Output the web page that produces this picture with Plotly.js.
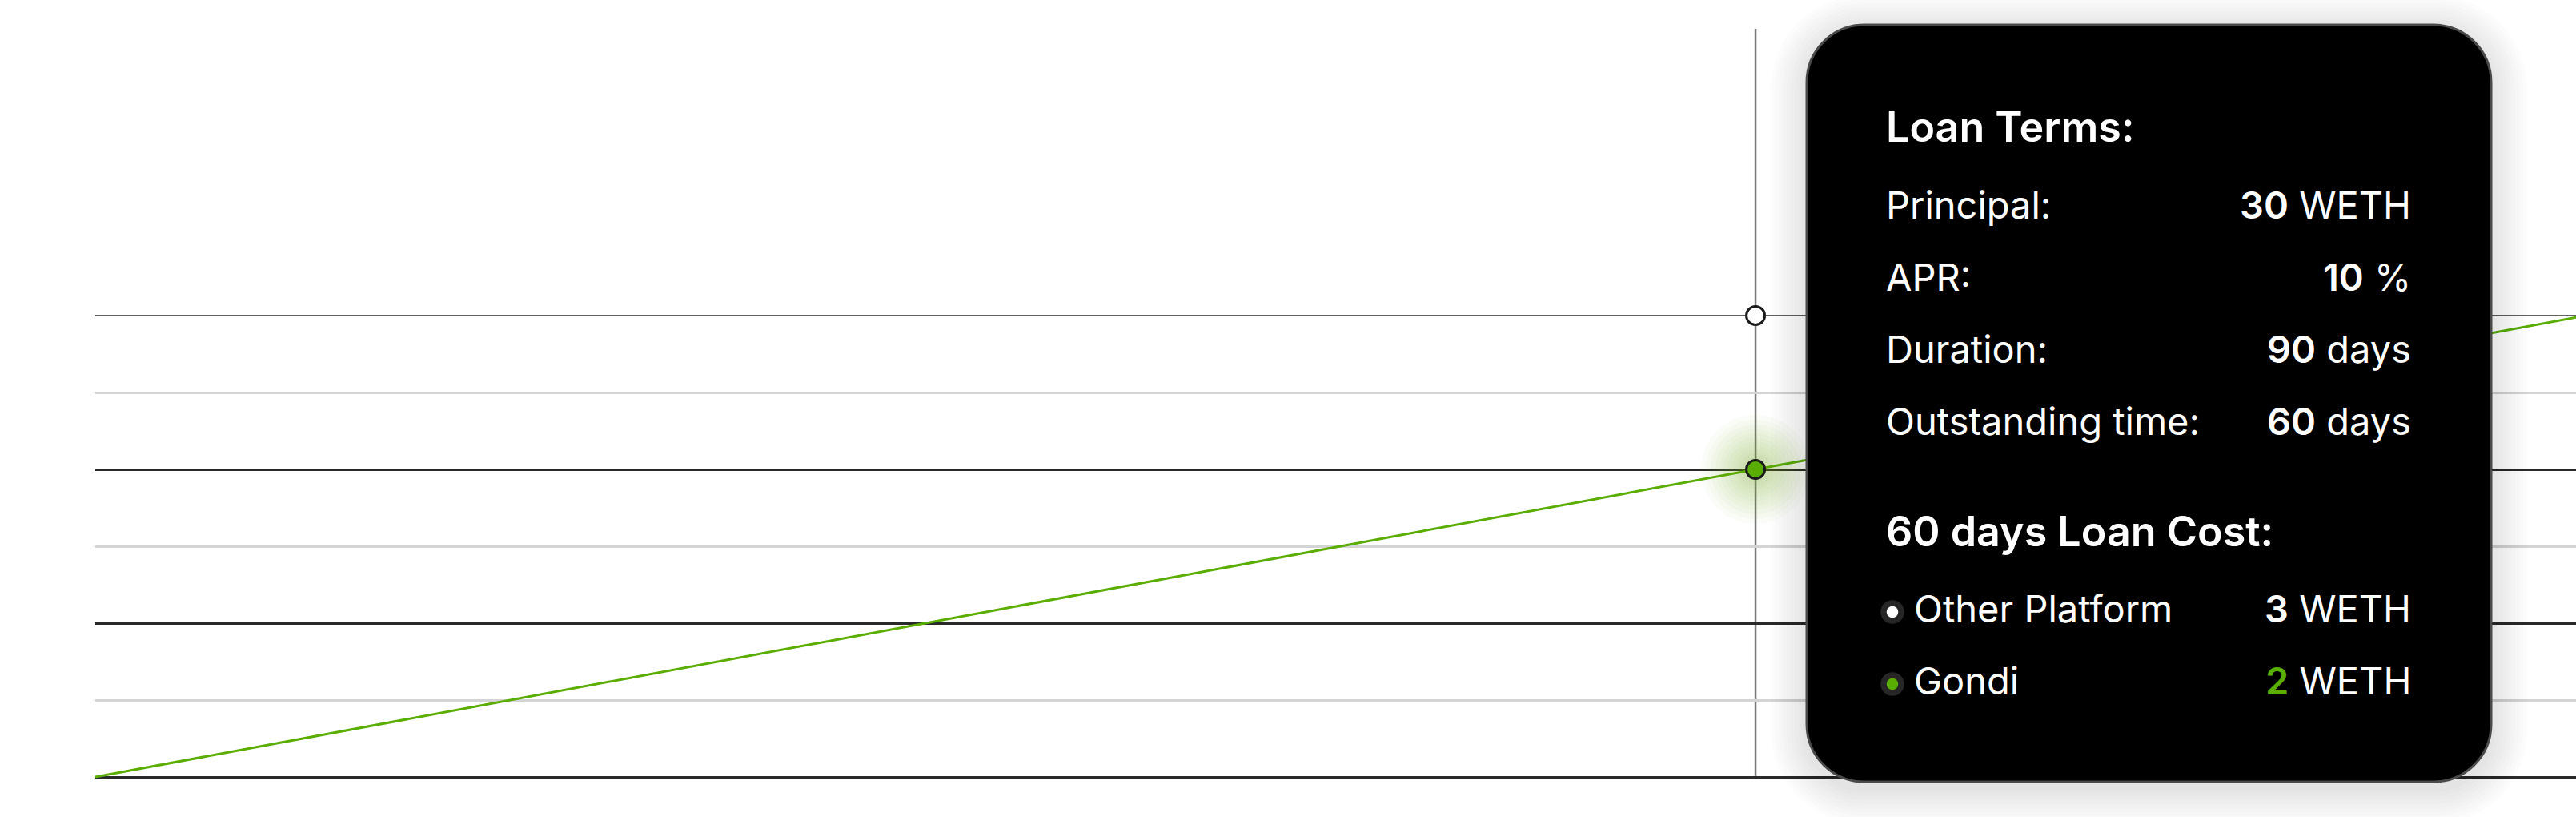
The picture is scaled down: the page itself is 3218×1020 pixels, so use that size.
<!DOCTYPE html>
<html>
<head>
<meta charset="utf-8">
<script src="https://cdn.plot.ly/plotly-3.0.1.min.js"></script>
<style>
  html, body { margin: 0; padding: 0; background: #ffffff; }
  #chart { width: 3218px; height: 1020px; }
</style>
</head>
<body>
<div id="chart"></div>
<script>
// ---------------- data ----------------
const gondiDays = [0, 90];
const gondiCost = [0, 3];          // WETH
const otherDays = [0, 90];
const otherCost = [3, 3];          // WETH
const hoverDay = [60];
const hoverOther = [3];
const hoverGondi = [2];
const minorLevels = [0.5, 1.5, 2.5];
const majorLevels = [0, 1, 2];

// tooltip content
const termLabels = ["Principal:", "APR:", "Duration:", "Outstanding time:"];
const termValues = ["30", "10", "90", "60"];
const termUnits = ["WETH", "%", "days", "days"];
const costLabels = ["Other Platform", "Gondi"];
const costValues = ["3", "2"];
const costUnit = "WETH";

// ---------------- style ----------------
const GREEN = "#5aad02";
const W = 3218, H = 1020;
const ZERO_PX = 970;               // pixel row of value 0
const PX_PER_UNIT = 192;
const M = { l: 119, r: 0, t: 36, b: 44 };
const PW = W - M.l - M.r, PH = H - M.t - M.b;
const px2x = px => (px - M.l) / PW;
const py2y = py => (H - M.b - py) / PH;

function roundRect(x0, y0, x1, y1, r) {
  const k = 0.5523 * r;
  const P = (x, y) => px2x(x).toFixed(6) + "," + py2y(y).toFixed(6);
  return "M" + P(x0 + r, y0) +
    " L" + P(x1 - r, y0) +
    " C" + P(x1 - r + k, y0) + " " + P(x1, y0 + r - k) + " " + P(x1, y0 + r) +
    " L" + P(x1, y1 - r) +
    " C" + P(x1, y1 - r + k) + " " + P(x1 - r + k, y1) + " " + P(x1 - r, y1) +
    " L" + P(x0 + r, y1) +
    " C" + P(x0 + r - k, y1) + " " + P(x0, y1 - r + k) + " " + P(x0, y1 - r) +
    " L" + P(x0, y0 + r) +
    " C" + P(x0, y0 + r - k) + " " + P(x0 + r - k, y0) + " " + P(x0 + r, y0) + " Z";
}

const box = { x0: 2257, y0: 31, x1: 3112, y1: 976, r: 72 };

const shapes = [];
// vertical hover line (from value 0 up to top of plot)
shapes.push({
  type: "line", layer: "between", xref: "x", yref: "paper",
  x0: hoverDay[0], x1: hoverDay[0], y0: py2y(ZERO_PX), y1: 1,
  line: { color: "#7a7a7a", width: 2.5 }
});
// soft shadow
for (let i = 9; i >= 1; i--) {
  const e = i * 5;
  shapes.push({
    type: "path", layer: "above", xref: "paper", yref: "paper",
    path: roundRect(box.x0 - e, box.y0 - e + 8, box.x1 + e, box.y1 + e + 8, box.r + e),
    fillcolor: "rgba(0,0,0,0.011)", line: { width: 0 }
  });
}
// tooltip box
shapes.push({
  type: "path", layer: "above", xref: "paper", yref: "paper",
  path: roundRect(box.x0, box.y0, box.x1, box.y1, box.r),
  fillcolor: "#000000", line: { color: "#4a4a4a", width: 3 }
});

const textLeft = 2355, textRight = 3013;
const annotations = [];
const FS_H = 52, FS_B = 47;
const mid = (baseline, fs) => baseline - 0.3635 * fs;

function addText(text, x, baseline, fs, anchor) {
  annotations.push({
    xref: "paper", yref: "paper", showarrow: false,
    x: px2x(x), y: py2y(mid(baseline, fs)),
    xanchor: anchor, yanchor: "middle",
    text: text, font: { family: "Inter, sans-serif", size: fs, color: "#ffffff" },
    borderpad: 0
  });
}

addText('<span style="font-weight:600">Loan Terms:</span>', textLeft, 177, FS_H, "left");
const rowBase = [273, 363, 453, 543];
termLabels.forEach((lab, i) => {
  addText(lab, textLeft, rowBase[i], FS_B, "left");
  addText('<span style="font-weight:600">' + termValues[i] + '</span> ' + termUnits[i], textRight, rowBase[i], FS_B, "right");
});
addText('<span style="font-weight:600">' + hoverDay[0] + ' days Loan Cost:</span>', textLeft, 682, FS_H, "left");

const costBase = [777, 867];
const dotFill = ["#ffffff", GREEN];
costLabels.forEach((lab, i) => {
  addText(lab, 2390, costBase[i], FS_B, "left");
  const valColor = i === 1 ? GREEN : "#ffffff";
  addText('<span style="font-weight:600;fill:' + valColor + '">' + costValues[i] + '</span> ' + costUnit, textRight, costBase[i], FS_B, "right");
  const cx = 2364, cy = costBase[i] - 13, rad = 11;
  shapes.push({
    type: "circle", layer: "above", xref: "paper", yref: "paper",
    x0: px2x(cx - rad), x1: px2x(cx + rad), y0: py2y(cy + rad), y1: py2y(cy - rad),
    fillcolor: dotFill[i], line: { color: "#262626", width: 7.5 }
  });
});

// ---------------- traces ----------------
const traces = [
  { x: otherDays, y: otherCost, mode: "lines", line: { color: "#2b2b2b", width: 1.5 }, hoverinfo: "skip" },
  { x: gondiDays, y: gondiCost, mode: "lines", line: { color: GREEN, width: 3 }, hoverinfo: "skip" }
];
// glow around the Gondi hover point
const glowSizes = [136, 124, 112, 100, 90, 80, 70, 60, 50, 42, 34];
glowSizes.forEach(s => traces.push({
  x: hoverDay, y: hoverGondi, mode: "markers", hoverinfo: "skip",
  marker: { size: s, color: "rgba(100,180,20,0.035)", line: { width: 0 } }
}));
traces.push(
  { x: hoverDay, y: hoverOther, mode: "markers", hoverinfo: "skip",
    marker: { size: 23, color: "#ffffff", line: { color: "#1a1a1a", width: 3 } } },
  { x: hoverDay, y: hoverGondi, mode: "markers", hoverinfo: "skip",
    marker: { size: 23, color: GREEN, line: { color: "#1a1a1a", width: 3 } } }
);

const yMin = -(H - M.b - ZERO_PX) / PX_PER_UNIT;
const yMax = yMin + PH / PX_PER_UNIT;

const layout = {
  width: W, height: H, autosize: false,
  margin: M,
  paper_bgcolor: "#ffffff", plot_bgcolor: "#ffffff",
  showlegend: false, hovermode: false,
  font: { family: "Inter, sans-serif" },
  xaxis: {
    range: [0, 89.65], showgrid: false, zeroline: false, showline: false,
    showticklabels: false, ticks: "", fixedrange: true
  },
  yaxis: {
    range: [yMin, yMax], zeroline: false, showline: false, showticklabels: false, ticks: "",
    tickmode: "array", tickvals: majorLevels,
    showgrid: true, gridcolor: "#2a2a2a", gridwidth: 3,
    minor: { tickmode: "array", tickvals: minorLevels, showgrid: true, gridcolor: "#d4d4d4", gridwidth: 3, ticks: "" },
    fixedrange: true
  },
  shapes: shapes,
  annotations: annotations
};

Plotly.newPlot("chart", traces, layout, { displayModeBar: false, staticPlot: true });
</script>
</body>
</html>
